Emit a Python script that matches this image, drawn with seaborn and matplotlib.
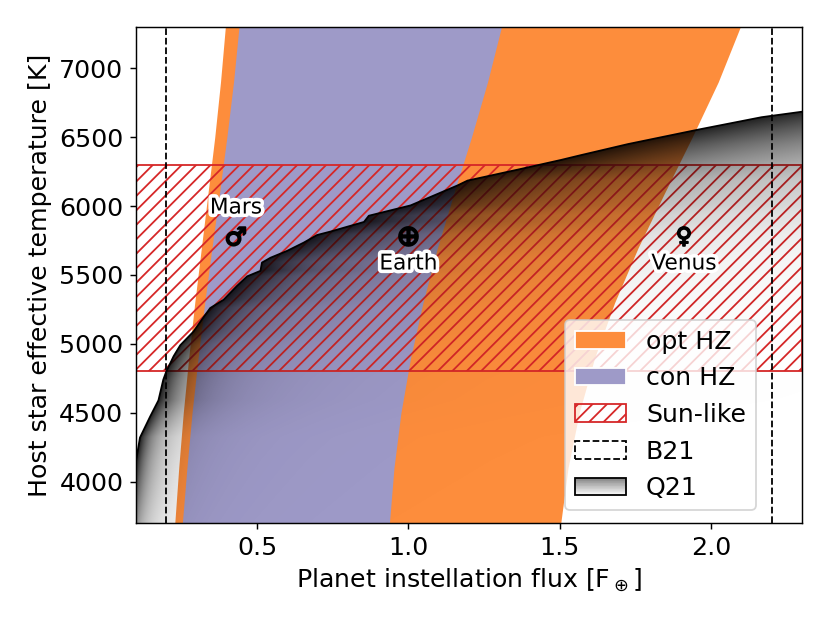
import numpy as np
import matplotlib
matplotlib.use("Agg")
import matplotlib.pyplot as plt
import matplotlib.patheffects as pe
import seaborn as sns
from matplotlib.patches import Patch, Rectangle, Polygon
from matplotlib.legend_handler import HandlerBase

# habitable zone edges, flux [F_earth] read at these effective temperatures
hz_teff = [3700, 4100, 4500, 4900, 5300, 5700, 6100, 6500, 6900, 7300]
recent_venus = [1.503, 1.527, 1.564, 1.615, 1.681, 1.759, 1.847, 1.937, 2.023, 2.096]
runaway_greenhouse = [0.937, 0.952, 0.975, 1.007, 1.048, 1.096, 1.151, 1.208, 1.261, 1.307]
max_greenhouse = [0.253, 0.268, 0.285, 0.305, 0.327, 0.351, 0.376, 0.400, 0.422, 0.440]
early_mars = [0.228, 0.241, 0.256, 0.274, 0.294, 0.316, 0.338, 0.360, 0.379, 0.395]

# Q21 upper boundary
q21_flux = [0.070, 0.085, 0.100, 0.113, 0.146, 0.174, 0.190, 0.200, 0.224, 0.246,
            0.290, 0.317, 0.345, 0.389, 0.433, 0.467, 0.511, 0.516, 0.544, 0.599,
            0.654, 0.698, 0.742, 0.853, 0.869, 1.007, 1.162, 1.195, 1.372, 1.504,
            1.570, 1.725, 1.957, 2.166, 2.310, 2.350]
q21_teff = [3650, 3900, 4150, 4320, 4470, 4590, 4740, 4800, 4910, 4990,
            5090, 5175, 5260, 5320, 5420, 5490, 5530, 5590, 5625, 5675,
            5735, 5790, 5815, 5885, 5930, 6005, 6150, 6185, 6270, 6335,
            6370, 6450, 6555, 6645, 6688, 6700]

b21_flux = [0.2, 2.2]
sunlike_teff = [4800, 6300]

planet_names = ["Mars", "Earth", "Venus"]
planet_flux = [0.43, 1.0, 1.91]
planet_teff = [5780, 5780, 5780]
planet_symbols = ["$\u2642$", r"$\oplus$", "$\u2640$"]
label_offsets = [16, -15, -15]

ORANGE = "#fd8d3c"
PURPLE = "#9e9ac8"
RED = "#d62728"

sns.set_style("ticks")
plt.rcParams.update({
    "font.family": ["DejaVu Sans"],
    "axes.edgecolor": "black",
    "axes.labelcolor": "black",
    "text.color": "black",
    "xtick.color": "black",
    "ytick.color": "black",
    "axes.linewidth": 0.8,
    "xtick.major.width": 0.8,
    "ytick.major.width": 0.8,
    "xtick.major.size": 3.5,
    "ytick.major.size": 3.5,
})


class GradientHandler(HandlerBase):
    def create_artists(self, legend, orig_handle, xdescent, ydescent,
                       width, height, fontsize, trans):
        x0, y0 = -xdescent, -ydescent
        n = 24
        arts = []
        for i in range(n):
            level = 1 - 0.5 * (i + 0.5) / n
            arts.append(Rectangle((x0, y0 + height * i / n), width, height / n,
                                  facecolor=str(level), edgecolor="none",
                                  transform=trans))
        arts.append(Rectangle((x0, y0), width, height, facecolor="none",
                              edgecolor="black", lw=1.0, transform=trans))
        return arts


fig, ax = plt.subplots(figsize=(830 / 130, 623 / 130), dpi=130)
fig.subplots_adjust(left=0.1639, right=0.9663, top=0.9567, bottom=0.1605)
xlim = (0.1, 2.3)
ylim = (3700, 7300)

ax.fill_betweenx(hz_teff, early_mars, recent_venus, color=ORANGE, lw=0, zorder=1)
ax.fill_betweenx(hz_teff, max_greenhouse, runaway_greenhouse, color=PURPLE, lw=0, zorder=1.1)
ax.axhspan(sunlike_teff[0], sunlike_teff[1], facecolor="none", edgecolor=RED,
           hatch="///", lw=1.0, zorder=2)

# Q21 region: dark at the boundary, fading with flux ratio to the boundary
xs = np.linspace(xlim[0], xlim[1], 500)
ys = np.linspace(ylim[0], ylim[1], 400)
X, Y = np.meshgrid(xs, ys)
edge_flux = np.interp(Y, q21_teff, q21_flux)
rho = np.log(np.maximum(X / edge_flux, 1.0))
alpha = 0.88 * np.exp(-rho / 0.47)
rgba = np.zeros((len(ys), len(xs), 4))
rgba[..., 3] = alpha
im = ax.imshow(rgba, extent=(*xlim, *ylim), origin="lower", aspect="auto",
               interpolation="bilinear", zorder=3)
clip = Polygon(np.column_stack([q21_flux + [q21_flux[-1], q21_flux[0]],
                                q21_teff + [3000, 3000]]),
               closed=True, facecolor="none", edgecolor="none")
ax.add_patch(clip)
im.set_clip_path(clip)
sns.lineplot(x=q21_flux, y=q21_teff, sort=False, estimator=None, color="black",
             lw=1.0, ax=ax, zorder=4)

for xb in b21_flux:
    ax.axvline(xb, color="black", ls="--", lw=1.0, zorder=5)

sns.scatterplot(x=planet_flux, y=planet_teff, style=planet_names,
                markers=dict(zip(planet_names, planet_symbols)), s=110,
                color="black", edgecolor="black", linewidth=1.0,
                legend=False, ax=ax, zorder=6)
for name, fx, ty, off in zip(planet_names, planet_flux, planet_teff, label_offsets):
    ax.annotate(name, (fx, ty), xytext=(0, off), textcoords="offset points",
                ha="center", va="center", fontsize=12, zorder=7,
                path_effects=[pe.withStroke(linewidth=4, foreground="white")])

ax.set_xlim(*xlim)
ax.set_ylim(*ylim)
ax.set_xticks([0.5, 1.0, 1.5, 2.0])
ax.set_yticks([4000, 4500, 5000, 5500, 6000, 6500, 7000])
ax.tick_params(labelsize=14)
ax.set_xlabel(r"Planet instellation flux [F$_\oplus$]", fontsize=14)
ax.set_ylabel("Host star effective temperature [K]", fontsize=14)

h_q21 = Patch(label="Q21")
handles = [
    Patch(facecolor=ORANGE, label="opt HZ"),
    Patch(facecolor=PURPLE, label="con HZ"),
    Patch(facecolor="none", edgecolor=RED, hatch="///", label="Sun-like"),
    Patch(facecolor="white", edgecolor="black", linestyle="--", label="B21"),
    h_q21,
]
leg = ax.legend(handles=handles, loc="lower right", bbox_to_anchor=(0.95, 0.0),
                fontsize=14, handler_map={h_q21: GradientHandler()})
leg.set_zorder(10)

fig.savefig("out.png", dpi=130)
